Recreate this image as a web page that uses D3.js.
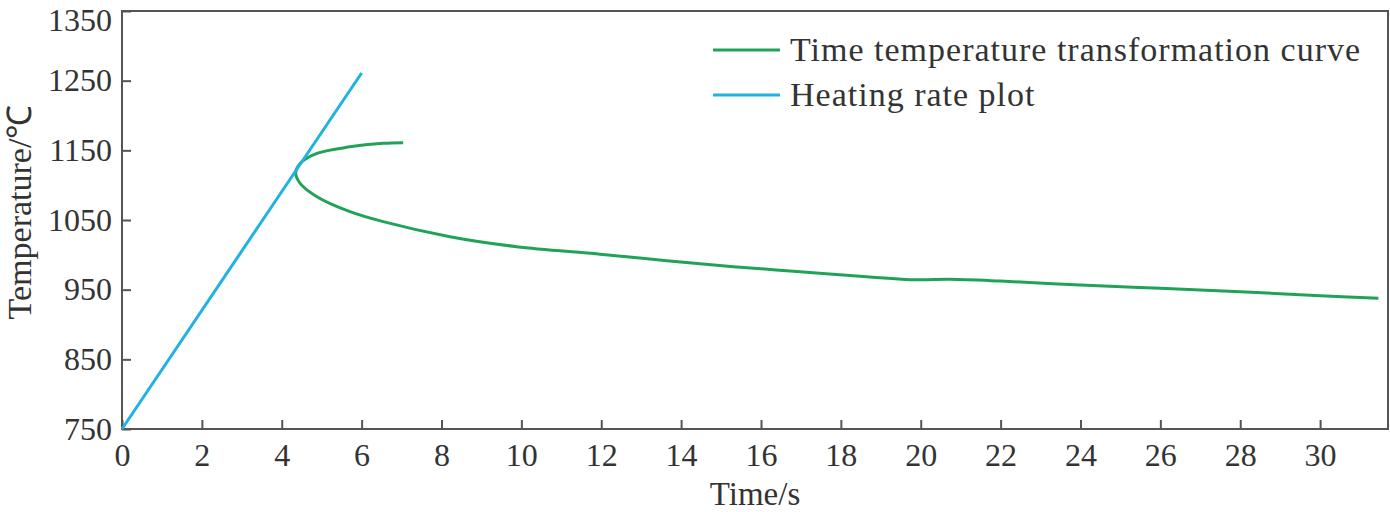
<!DOCTYPE html>
<html>
<head>
<meta charset="utf-8">
<script src="https://cdn.jsdelivr.net/npm/d3@7"></script>
<style>
    body { margin: 0; background: #fff; }
    text { font-family: "Liberation Serif", "Times New Roman", serif; fill: #333; }
</style>
</head>
<body>
<div id="chart"></div>
<script>
// heating rate plot (straight ramp)
const heatTime = [0, 6]
const heatTemp = [750, 1261]

// time temperature transformation curve, from the upper tip round the nose to the tail
const ttcTime = [7.04, 6.54, 5.71, 4.88, 4.46, 4.35, 4.46, 4.88, 5.71, 6.54, 8.21, 9.88, 11.97,
    13.64, 15.31, 16.98, 18.65, 19.9, 20.74, 21.99, 24, 26, 28, 30, 31.46]
const ttcTemp = [1161, 1160, 1155, 1145.5, 1131, 1117, 1102.6, 1083.5, 1062, 1047.6, 1026, 1011.7, 1001,
    991.5, 983, 975.8, 968.6, 964.2, 964.9, 962.4, 956.7, 951.9, 947, 941.3, 937.6]

const xTicks = d3.range(0, 31, 2)
const yTicks = [750, 850, 950, 1050, 1150, 1250, 1350]

const legendLabels = ['Time temperature transformation curve', 'Heating rate plot']
const colors = { green: '#20a358', blue: '#1fb2e3' }

const width = 1390
const height = 512
const margin = { left: 122, right: 2, top: 11, bottom: 83 }

const svg = d3.select('#chart')
    .append('svg')
    .attr('width', width)
    .attr('height', height)

const x = d3.scaleLinear()
    .domain([0, 31.7])
    .range([margin.left, width - margin.right])
const y = d3.scaleLinear()
    .domain([750, 1350])
    .range([height - margin.bottom, margin.top])

// frame
svg.append('rect')
    .attr('x', x.range()[0])
    .attr('y', y.range()[1])
    .attr('width', x.range()[1] - x.range()[0])
    .attr('height', y.range()[0] - y.range()[1])
    .attr('fill', 'none')
    .attr('stroke', '#555')
    .attr('stroke-width', 2)

// axes with inward ticks
const xAxis = svg.append('g')
    .attr('transform', `translate(0,${y.range()[0]})`)
    .call(d3.axisBottom(x).tickValues(xTicks).tickSize(-9).tickPadding(14).tickFormat(d3.format('d')))
const yAxis = svg.append('g')
    .attr('transform', `translate(${x.range()[0]},0)`)
    .call(d3.axisLeft(y).tickValues(yTicks).tickSize(-9).tickPadding(10).tickFormat(d3.format('d')))

;[xAxis, yAxis].forEach(g => {
    g.select('.domain').remove()
    g.attr('font-family', '"Liberation Serif", serif')
    g.selectAll('.tick line').attr('stroke', '#555').attr('stroke-width', 2)
    g.selectAll('.tick text')
        .attr('font-size', 32)
        .attr('fill', '#333')
})
xAxis.selectAll('.tick text').attr('dy', '0.71em').attr('y', 14)
yAxis.selectAll('.tick text').attr('x', -10)
// keep the top label inside the picture
yAxis.selectAll('.tick text').filter(d => d === 1350).attr('dy', '0.6em')

// axis titles
svg.append('text')
    .attr('x', (x.range()[0] + x.range()[1]) / 2)
    .attr('y', 505)
    .attr('text-anchor', 'middle')
    .attr('font-size', 33)
    .text('Time/s')

svg.append('text')
    .attr('transform', `translate(31,${(y.range()[0] + y.range()[1]) / 2 - 8}) rotate(-90)`)
    .attr('text-anchor', 'middle')
    .attr('font-size', 34)
    .text('Temperature/℃')

// curves
const line = d3.line()
    .x(d => x(d[0]))
    .y(d => y(d[1]))

svg.append('path')
    .datum(ttcTime.map((t, i) => [t, ttcTemp[i]]))
    .attr('d', line.curve(d3.curveCatmullRom.alpha(0.5)))
    .attr('fill', 'none')
    .attr('stroke', colors.green)
    .attr('stroke-width', 3)

svg.append('path')
    .datum(heatTime.map((t, i) => [t, heatTemp[i]]))
    .attr('d', line.curve(d3.curveLinear))
    .attr('fill', 'none')
    .attr('stroke', colors.blue)
    .attr('stroke-width', 3)

// legend
const legend = svg.append('g').attr('transform', 'translate(713,50)')
legendLabels.forEach((label, i) => {
    const row = legend.append('g').attr('transform', `translate(0,${i * 45})`)
    row.append('line')
        .attr('x1', 0).attr('x2', 67)
        .attr('stroke', i === 0 ? colors.green : colors.blue)
        .attr('stroke-width', 3)
    row.append('text')
        .attr('x', 77)
        .attr('y', 0)
        .attr('dy', '0.32em')
        .attr('font-size', 34)
        .attr('letter-spacing', 1)
        .text(label)
})
</script>
</body>
</html>
